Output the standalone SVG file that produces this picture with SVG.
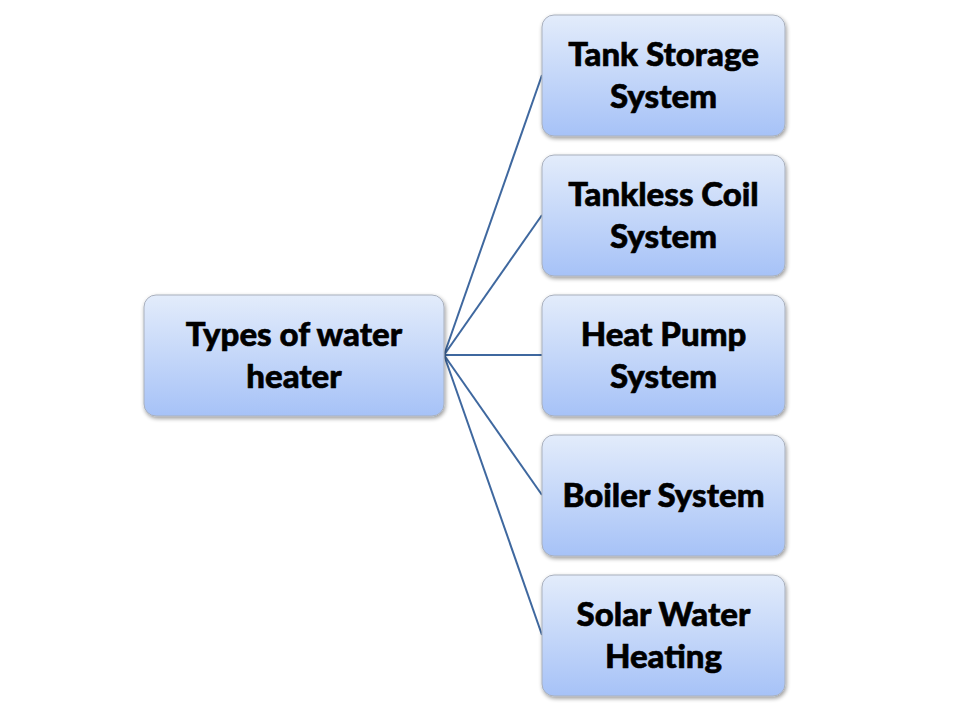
<svg xmlns="http://www.w3.org/2000/svg" width="960" height="720" viewBox="0 0 960 720">
<defs>
<linearGradient id="g" x1="0" y1="0" x2="0" y2="1">
<stop offset="0" stop-color="#e3ecfb"/>
<stop offset="1" stop-color="#a6c2f7"/>
</linearGradient>
<filter id="sh" x="-10%" y="-10%" width="130%" height="130%">
<feGaussianBlur in="SourceAlpha" stdDeviation="2"/>
<feOffset dx="1" dy="2" result="b"/>
<feComponentTransfer><feFuncA type="linear" slope="0.4"/></feComponentTransfer>
<feMerge><feMergeNode/><feMergeNode in="SourceGraphic"/></feMerge>
</filter>
</defs>
<style>
.box{fill:url(#g);stroke:#a9b0bd;stroke-width:1;filter:url(#sh)}
.t{font-family:Lato,"Open Sans",sans-serif;font-weight:900;font-size:33px;fill:#000;stroke:#000;stroke-width:0.6;text-anchor:middle}
.c{stroke:#3f689f;stroke-width:2;fill:none}
</style>
<rect width="960" height="720" fill="#fff"/>
<g id="connectors">
<line class="c" x1="444" y1="355" x2="542" y2="75"/>
<line class="c" x1="444" y1="355" x2="542" y2="215"/>
<line class="c" x1="444" y1="355" x2="542" y2="355"/>
<line class="c" x1="444" y1="355" x2="542" y2="495"/>
<line class="c" x1="444" y1="355" x2="542" y2="635"/>
</g>
<g id="root">
<rect class="box" x="144" y="295" width="300" height="121" rx="12"/>
<text class="t" x="294" y="346">Types of water</text>
<text class="t" x="294" y="388">heater</text>
</g>
<g id="n1">
<rect class="box" x="542" y="15" width="243" height="121" rx="12"/>
<text class="t" x="663.500" y="66">Tank Storage</text>
<text class="t" x="663.500" y="108">System</text>
</g>
<g id="n2">
<rect class="box" x="542" y="155" width="243" height="121" rx="12"/>
<text class="t" x="663.500" y="206">Tankless Coil</text>
<text class="t" x="663.500" y="248">System</text>
</g>
<g id="n3">
<rect class="box" x="542" y="295" width="243" height="121" rx="12"/>
<text class="t" x="663.500" y="346">Heat Pump</text>
<text class="t" x="663.500" y="388">System</text>
</g>
<g id="n4">
<rect class="box" x="542" y="435" width="243" height="121" rx="12"/>
<text class="t" x="663.500" y="507">Boiler System</text>
</g>
<g id="n5">
<rect class="box" x="542" y="575" width="243" height="121" rx="12"/>
<text class="t" x="663.500" y="626">Solar Water</text>
<text class="t" x="663.500" y="668">Heating</text>
</g>
</svg>
